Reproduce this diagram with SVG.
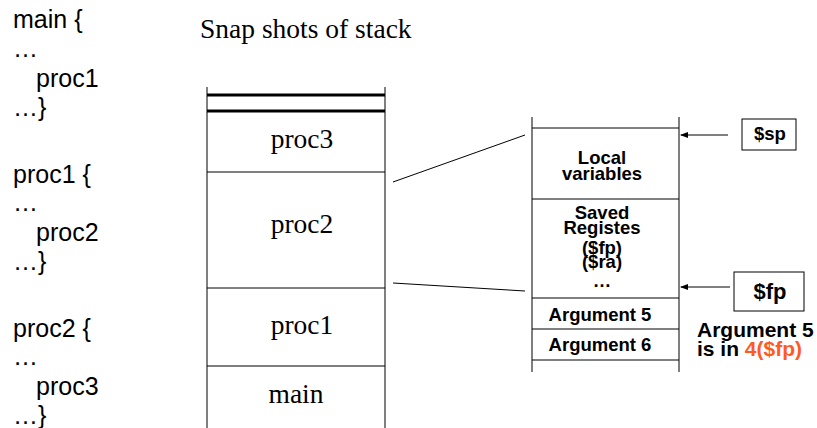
<svg xmlns="http://www.w3.org/2000/svg" width="817" height="428" viewBox="0 0 817 428">
  <style>
    .code { font-family: "Liberation Sans", Arial, sans-serif; font-size: 25px; fill: #000; }
    .serif { font-family: "Liberation Serif", "Times New Roman", serif; font-size: 27.5px; fill: #000; }
    .bold { font-family: "Liberation Sans", Arial, sans-serif; font-weight: bold; fill: #000; }
    .cell { font-size: 18.5px; text-anchor: middle; }
    .ln { stroke: #000; stroke-width: 1; fill: none; }
    .thick { stroke: #000; stroke-width: 3; }
    .box { stroke: #000; stroke-width: 1; fill: #fff; }
  </style>
  <defs>
    <marker id="arr" markerWidth="8" markerHeight="6" refX="7" refY="3" orient="auto" markerUnits="userSpaceOnUse">
      <path d="M0,0 L8,3 L0,6 z" fill="#000"/>
    </marker>
  </defs>
  <rect width="817" height="428" fill="#fff"/>

  <!-- source listing -->
  <g id="code">
    <text class="code" x="13" y="28">main {</text>
    <text class="code" x="13" y="57">…</text>
    <text class="code" x="36" y="87">proc1</text>
    <text class="code" x="13" y="116">…}</text>
    <text class="code" x="13" y="183">proc1 {</text>
    <text class="code" x="13" y="211">…</text>
    <text class="code" x="36" y="241">proc2</text>
    <text class="code" x="13" y="270">…}</text>
    <text class="code" x="13" y="337">proc2 {</text>
    <text class="code" x="13" y="365">…</text>
    <text class="code" x="36" y="395">proc3</text>
    <text class="code" x="13" y="424">…}</text>
  </g>

  <text class="serif" x="200" y="38">Snap shots of stack</text>

  <!-- call stack -->
  <g id="stack">
    <line class="ln" x1="207" y1="87" x2="207" y2="428"/>
    <line class="ln" x1="385" y1="87" x2="385" y2="428"/>
    <line class="thick" x1="207" y1="95" x2="385" y2="95"/>
    <line class="thick" x1="207" y1="111" x2="385" y2="111"/>
    <line class="ln" x1="207" y1="172" x2="385" y2="172"/>
    <line class="ln" x1="207" y1="288" x2="385" y2="288"/>
    <line class="ln" x1="207" y1="366" x2="385" y2="366"/>
  </g>
  <g id="frame-proc3"><text class="serif" x="302" y="148" text-anchor="middle">proc3</text></g>
  <g id="frame-proc2"><text class="serif" x="302" y="233" text-anchor="middle">proc2</text></g>
  <g id="frame-proc1"><text class="serif" x="302" y="334" text-anchor="middle">proc1</text></g>
  <g id="frame-main"><text class="serif" x="296" y="403" text-anchor="middle">main</text></g>

  <!-- expanded frame of proc2 -->
  <g id="frame-detail">
    <line class="ln" x1="532" y1="117" x2="532" y2="372"/>
    <line class="ln" x1="679" y1="117" x2="679" y2="372"/>
    <line class="ln" x1="532" y1="128" x2="679" y2="128"/>
    <line class="ln" x1="532" y1="199" x2="679" y2="199"/>
    <line class="ln" x1="532" y1="298" x2="679" y2="298"/>
    <line class="ln" x1="532" y1="329" x2="679" y2="329"/>
    <line class="ln" x1="532" y1="360" x2="679" y2="360"/>
  </g>
  <g id="local-vars">
    <text class="bold cell" x="602" y="164">Local</text>
    <text class="bold cell" x="602" y="180">variables</text>
  </g>
  <g id="saved-regs">
    <text class="bold cell" x="602" y="219">Saved</text>
    <text class="bold cell" x="602" y="234">Registes</text>
    <text class="bold cell" x="602" y="254">($fp)</text>
    <text class="bold cell" x="602" y="268">($ra)</text>
    <text class="bold cell" x="602" y="287">…</text>
  </g>
  <g id="arg5"><text class="bold cell" x="600" y="321">Argument 5</text></g>
  <g id="arg6"><text class="bold cell" x="600" y="351">Argument 6</text></g>

  <!-- pointer registers -->
  <g id="sp">
    <rect class="box" x="742" y="119" width="54" height="31"/>
    <text class="bold" font-size="18.5" x="770" y="140" text-anchor="middle">$sp</text>
  </g>
  <g id="fp">
    <rect class="box" x="734" y="272" width="70" height="39"/>
    <text class="bold" font-size="22" x="770" y="299" text-anchor="middle">$fp</text>
  </g>
  <g id="note">
    <text class="bold" font-size="21" x="697" y="337">Argument 5</text>
    <text class="bold" font-size="21" x="697" y="356">is in <tspan fill="#ff5a1f">4($fp)</tspan></text>
  </g>

  <!-- connectors -->
  <g id="connectors">
    <line class="ln" x1="393" y1="182" x2="525" y2="135"/>
    <line class="ln" x1="393" y1="283" x2="525" y2="291"/>
    <line class="ln" x1="728" y1="135" x2="681" y2="135" marker-end="url(#arr)"/>
    <line class="ln" x1="730" y1="287" x2="681" y2="287" marker-end="url(#arr)"/>
  </g>
</svg>
